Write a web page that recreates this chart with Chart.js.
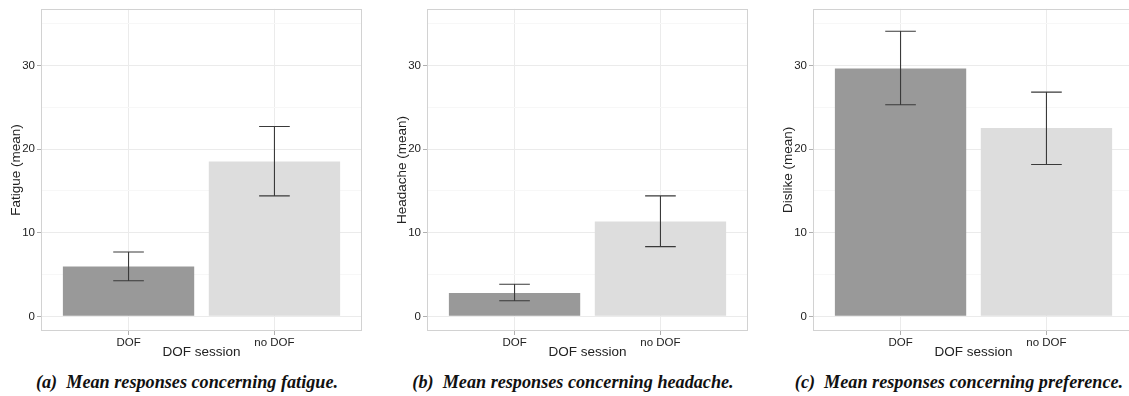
<!DOCTYPE html>
<html>
<head>
<meta charset="utf-8">
<script src="https://cdn.jsdelivr.net/npm/chart.js@4"></script>
<style>
  html, body { margin: 0; padding: 0; background: #fff; overflow: hidden; width: 1129px; height: 396px; }
  .panel { position: absolute; top: 0; width: 362px; height: 360px; }
  .cap { position: absolute; top: 372px; font-family: "Liberation Serif", "DejaVu Serif", serif; font-style: italic; font-weight: bold; font-size: 18.2px; color: #111; white-space: nowrap; transform: translateX(-50%); }
</style>
</head>
<body>
<div class="panel" style="left:0px"><canvas id="c0" width="362" height="360"></canvas></div>
<div class="panel" style="left:386px"><canvas id="c1" width="362" height="360"></canvas></div>
<div class="panel" style="left:772px"><canvas id="c2" width="362" height="360"></canvas></div>
<div class="cap" style="left:187px">(a)&nbsp; Mean responses concerning fatigue.</div>
<div class="cap" style="left:573px">(b)&nbsp; Mean responses concerning headache.</div>
<div class="cap" style="left:959px">(c)&nbsp; Mean responses concerning preference.</div>
<script>
// ---- data ----
const categories = ['DOF', 'no DOF'];
const categoryPositions = [1, 2];
const yTickValues = [0, 5, 10, 15, 20, 25, 30, 35];
const xAxisTitle = 'DOF session';

const fatigueMean = [5.96, 18.5];
const fatigueLow = [4.26, 14.4];
const fatigueHigh = [7.69, 22.7];

const headacheMean = [2.8, 11.33];
const headacheLow = [1.86, 8.33];
const headacheHigh = [3.83, 14.4];

const dislikeMean = [29.64, 22.5];
const dislikeLow = [25.3, 18.15];
const dislikeHigh = [34.07, 26.8];

const yTitles = ['Fatigue (mean)', 'Headache (mean)', 'Dislike (mean)'];
const barColors = ['#999999', '#dddddd'];

// ---- plugins ----
const framePlugin = {
  id: 'frame',
  afterDraw(chart) {
    const a = chart.chartArea, ctx = chart.ctx;
    ctx.save();
    ctx.strokeStyle = '#d2d2d2';
    ctx.lineWidth = 1;
    ctx.strokeRect(Math.round(a.left) + 0.5, Math.round(a.top) + 0.5, Math.round(a.right - a.left) - 1, Math.round(a.bottom - a.top) - 1);
    ctx.restore();
  }
};
const errorBarPlugin = {
  id: 'errbars',
  afterDatasetsDraw(chart, args, opts) {
    const xs = chart.scales.x, ys = chart.scales.y, ctx = chart.ctx;
    ctx.save();
    ctx.strokeStyle = '#3a3a3a';
    ctx.lineWidth = 1.1;
    opts.low.forEach((lo, i) => {
      const xv = categoryPositions[i];
      const xp = xs.getPixelForValue(xv);
      const half = xs.getPixelForValue(xv + 0.105) - xp;
      const yt = ys.getPixelForValue(opts.high[i]);
      const yb = ys.getPixelForValue(lo);
      ctx.beginPath();
      ctx.moveTo(xp, yt); ctx.lineTo(xp, yb);
      ctx.moveTo(xp - half, yt); ctx.lineTo(xp + half, yt);
      ctx.moveTo(xp - half, yb); ctx.lineTo(xp + half, yb);
      ctx.stroke();
    });
    ctx.restore();
  }
};

function makeChart(id, yTitle, mean, low, high) {
  return new Chart(document.getElementById(id), {
    type: 'bar',
    data: {
      datasets: [{
        data: categoryPositions.map((x, i) => ({ x: x, y: mean[i] })),
        backgroundColor: barColors,
        borderWidth: 0,
        categoryPercentage: 0.9,
        barPercentage: 1.0
      }]
    },
    plugins: [framePlugin, errorBarPlugin],
    options: {
      responsive: false,
      animation: false,
      events: [],
      layout: { padding: { top: 5, left: 0, right: 0, bottom: 0 } },
      plugins: {
        legend: { display: false },
        tooltip: { enabled: false },
        errbars: { low: low, high: high }
      },
      scales: {
        x: {
          type: 'linear',
          offset: false,
          min: 0.4, max: 2.6,
          afterBuildTicks: s => { s.ticks = categoryPositions.map(v => ({ value: v })); },
          afterFit: s => { s.height = 29; },
          grid: { offset: false, color: '#ebebeb', tickColor: '#b0b0b0', tickLength: 4, drawTicks: true },
          border: { display: false },
          ticks: {
            padding: 1,
            color: '#222',
            font: { family: 'Liberation Sans', size: 11.5 },
            callback: (v, i) => categories[i]
          },
          title: {
            display: true, text: xAxisTitle, color: '#222',
            font: { family: 'Liberation Sans', size: 13.5 },
            padding: { top: 0, bottom: 0 }
          }
        },
        y: {
          min: -1.75, max: 36.75,
          afterBuildTicks: s => { s.ticks = yTickValues.map(v => ({ value: v })); },
          afterFit: s => { s.width = 41; },
          grid: {
            color: c => (c.tick && c.tick.value % 10 === 0) ? '#ebebeb' : '#f7f7f7',
            tickColor: c => (c.tick && c.tick.value % 10 === 0) ? '#b0b0b0' : 'rgba(0,0,0,0)',
            tickLength: 4
          },
          border: { display: false },
          ticks: {
            padding: 2,
            color: '#222',
            font: { family: 'Liberation Sans', size: 11.5 },
            callback: v => (v % 10 === 0 ? String(v) : '')
          },
          title: {
            display: true, text: yTitle, color: '#222',
            font: { family: 'Liberation Sans', size: 13.5 },
            padding: { top: 8, bottom: 0 }
          }
        }
      }
    }
  });
}

makeChart('c0', yTitles[0], fatigueMean, fatigueLow, fatigueHigh);
makeChart('c1', yTitles[1], headacheMean, headacheLow, headacheHigh);
makeChart('c2', yTitles[2], dislikeMean, dislikeLow, dislikeHigh);
</script>
</body>
</html>
